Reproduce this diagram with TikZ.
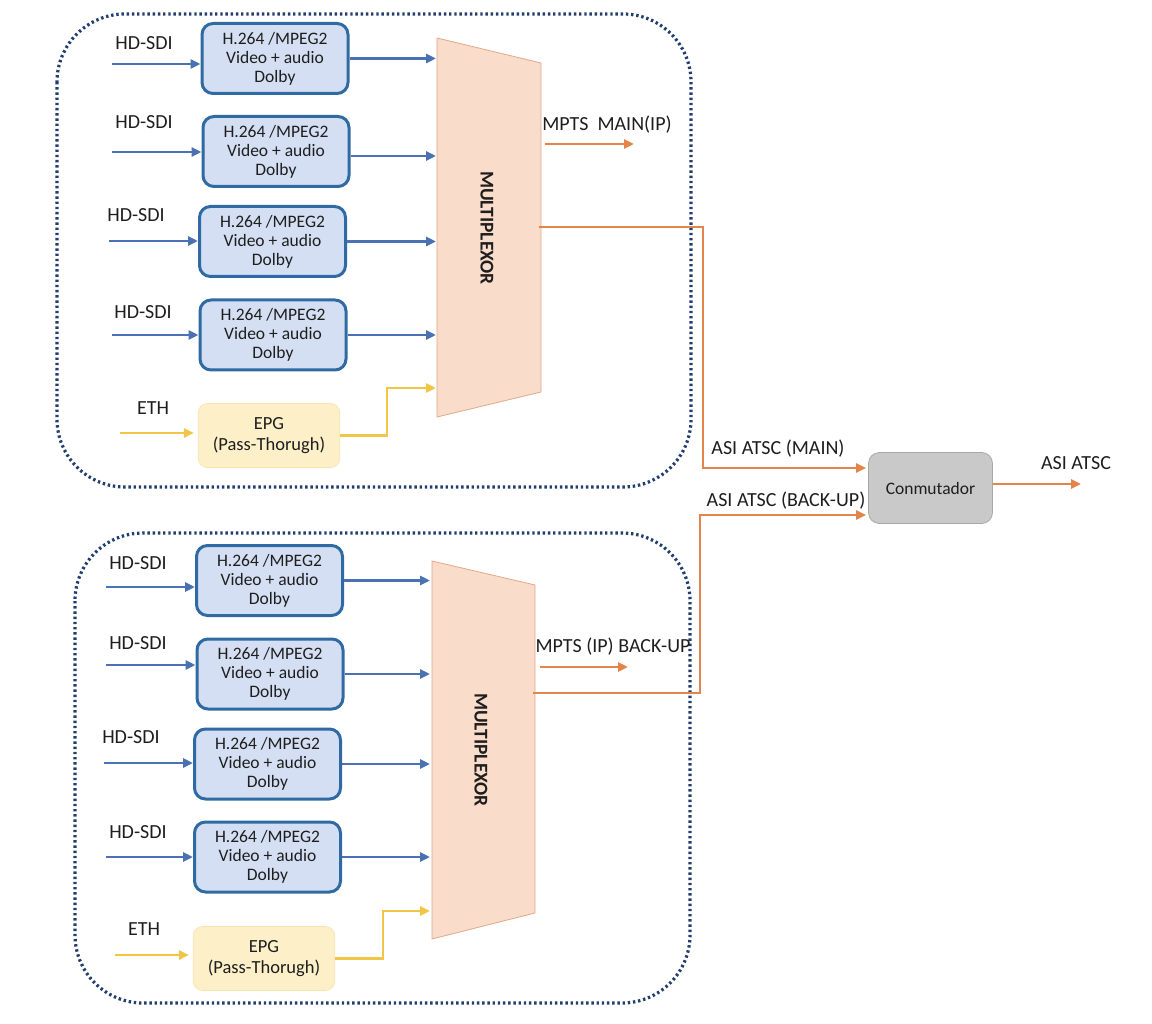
\documentclass[tikz,border=0pt]{standalone}
\usepackage{fontspec}
\setmainfont{Carlito}
\usetikzlibrary{arrows.meta}
\definecolor{encB}{HTML}{2F6AA3}
\definecolor{encF}{HTML}{D4DFF3}
\definecolor{blueA}{HTML}{4A72B2}
\definecolor{epgF}{HTML}{FDF0C9}
\definecolor{epgB}{HTML}{F6E3AE}
\definecolor{yelA}{HTML}{F1C545}
\definecolor{oraA}{HTML}{E3854A}
\definecolor{muxF}{HTML}{FADCCA}
\definecolor{muxB}{HTML}{E2A88A}
\definecolor{cmF}{HTML}{C9C9C9}
\definecolor{cmB}{HTML}{A8A8A8}
\definecolor{frameC}{HTML}{223E6E}
\definecolor{txt}{HTML}{1E1E1E}
\begin{document}
\begin{tikzpicture}[x=1pt,y=-1pt,
  enc/.style={draw=encB, fill=encF, line width=3pt, rounded corners=11pt,
    minimum width=146pt, minimum height=70pt, inner sep=0pt, align=center,
    text=txt, font=\fontsize{17.5}{19}\selectfont},
  epgbox/.style={draw=epgB, fill=epgF, line width=0.6pt, rounded corners=9pt,
    minimum width=141.5pt, minimum height=64pt, inner sep=0pt, align=center,
    text=txt, font=\fontsize{18.5}{21}\selectfont},
  lbl/.style={inner sep=0pt, text=txt, font=\fontsize{20}{23}\selectfont},
  muxtxt/.style={inner sep=0pt, rotate=-90, text=txt, font=\bfseries\fontsize{19.5}{22}\selectfont},
  barrow/.style={draw=blueA, line width=2.8pt, -{Triangle[length=10pt,width=9pt]}},
  yarrow/.style={draw=yelA, line width=2.8pt, -{Triangle[length=10pt,width=9pt]}},
  oarrow/.style={draw=oraA, line width=2.8pt, -{Triangle[length=10pt,width=9pt]}},
  oline/.style={draw=oraA, line width=2.2pt},
  frame/.style={draw=frameC, line width=3.2pt, dash pattern=on 2.4pt off 2.8pt, rounded corners=68pt},
  muxshape/.style={draw=muxB, fill=muxF, line width=0.8pt}
]
\useasboundingbox (0,0) rectangle (1152,1024);

% ---------- frames ----------
\draw[frame] (57,14) rectangle (691,487);
\draw[frame] (75,533) rectangle (690,1003);

% ---------- top group ----------
\node[enc] (b1) at (275,58.5) {H.264 /MPEG2\\Video + audio\\Dolby};
\node[enc] (b2) at (276,151.5) {H.264 /MPEG2\\Video + audio\\Dolby};
\node[enc] (b3) at (272.5,241.5) {H.264 /MPEG2\\Video + audio\\Dolby};
\node[enc] (b4) at (273,335) {H.264 /MPEG2\\Video + audio\\Dolby};
\node[epgbox] (e1) at (269,435.5) {EPG\\(Pass-Thorugh)};

\node[lbl] (l1) at (144,43) {HD-SDI};
\node[lbl] (l2) at (144,122) {HD-SDI};
\node[lbl] (l3) at (136,215) {HD-SDI};
\node[lbl] (l4) at (143,312) {HD-SDI};
\node[lbl] (l5) at (153,408) {ETH};

\coordinate (s1) at (112,64);
\coordinate (s2) at (112,152);
\coordinate (s3) at (109,241);
\coordinate (s4) at (112,335);
\coordinate (s5) at (120,433);
\draw[barrow] (s1) -- (s1 -| b1.west);
\draw[barrow] (s2) -- (s2 -| b2.west);
\draw[barrow] (s3) -- (s3 -| b3.west);
\draw[barrow] (s4) -- (s4 -| b4.west);
\draw[yarrow] (s5) -- ([xshift=-4pt]s5 -| e1.west);

\draw[muxshape] (437,38) -- (541,63) -- (541,392) -- (437,417) -- cycle;
\node[muxtxt] (m1) at (487,228) {MULTIPLEXOR};
\coordinate (m1L) at (436,0);
\coordinate (m1o) at (539,227);

\draw[barrow] (b1.east) -- (b1.east -| m1L);
\draw[barrow] ([yshift=-4.5pt]b2.east) -- ([yshift=-4.5pt]b2.east -| m1L);
\draw[barrow] (b3.east) -- (b3.east -| m1L);
\draw[barrow] (b4.east) -- (b4.east -| m1L);
\coordinate (y1) at (387,388);
\draw[yarrow] (e1.east) -| (y1) -- (y1 -| m1L);

\node[lbl] (t1) at (607,125) {MPTS\ \ MAIN(IP)};
\coordinate (p1a) at (545,144);
\coordinate (p1b) at (634,144);
\draw[oarrow] (p1a) -- (p1b);

% ---------- bottom group ----------
\node[enc] (c1) at (269.5,580.5) {H.264 /MPEG2\\Video + audio\\Dolby};
\node[enc] (c2) at (270,674) {H.264 /MPEG2\\Video + audio\\Dolby};
\node[enc] (c3) at (267.5,764) {H.264 /MPEG2\\Video + audio\\Dolby};
\node[enc] (c4) at (267.5,857) {H.264 /MPEG2\\Video + audio\\Dolby};
\node[epgbox] (e2) at (264,958.5) {EPG\\(Pass-Thorugh)};

\node[lbl] (n1) at (138,563) {HD-SDI};
\node[lbl] (n2) at (138,643) {HD-SDI};
\node[lbl] (n3) at (131,737) {HD-SDI};
\node[lbl] (n4) at (138,832) {HD-SDI};
\node[lbl] (n5) at (144,929) {ETH};

\coordinate (r1) at (106,587);
\coordinate (r2) at (106,665);
\coordinate (r3) at (104,763);
\coordinate (r4) at (106,857);
\coordinate (r5) at (115,955);
\draw[barrow] (r1) -- (r1 -| c1.west);
\draw[barrow] (r2) -- (r2 -| c2.west);
\draw[barrow] (r3) -- (r3 -| c3.west);
\draw[barrow] (r4) -- (r4 -| c4.west);
\draw[yarrow] (r5) -- ([xshift=-4pt]r5 -| e2.west);

\draw[muxshape] (432,561) -- (535,585) -- (535,913) -- (432,939) -- cycle;
\node[muxtxt] (m2) at (481,750) {MULTIPLEXOR};
\coordinate (m2L) at (430,0);
\coordinate (m2o) at (533,693);

\draw[barrow] (c1.east) -- (c1.east -| m2L);
\draw[barrow] (c2.east) -- (c2.east -| m2L);
\draw[barrow] (c3.east) -- (c3.east -| m2L);
\draw[barrow] (c4.east) -- (c4.east -| m2L);
\coordinate (y2) at (383,911);
\draw[yarrow] (e2.east) -| (y2) -- (y2 -| m2L);

\node[lbl] (t2) at (613,647) {MPTS (IP) BACK-UP};
\coordinate (p2a) at (540,667);
\coordinate (p2b) at (628,667);
\draw[oarrow] (p2a) -- (p2b);

% ---------- switch ----------
\node[draw=cmB, fill=cmF, line width=0.8pt, rounded corners=11pt,
  minimum width=124pt, minimum height=71pt, inner sep=0pt, text=txt,
  font=\fontsize{17.5}{20}\selectfont] (cm) at (930.5,488) {Conmutador};

\coordinate (k1) at (703,468);
\coordinate (k2) at (700,515);
\draw[oline, -{Triangle[length=10pt,width=9pt]}] (m1o) -| (k1) -- ([xshift=-2pt]k1 -| cm.west);
\draw[oline, -{Triangle[length=10pt,width=9pt]}] (m2o) -| (k2) -- ([xshift=-2pt]k2 -| cm.west);

\node[lbl] (a1) at (778,449) {ASI ATSC (MAIN)};
\node[lbl] (a2) at (786,501) {ASI ATSC (BACK-UP)};

\coordinate (q1) at (1081,484);
\draw[oarrow] (q1 -| cm.east) -- (q1);
\node[lbl] (a3) at (1076,463) {ASI ATSC};
\end{tikzpicture}
\end{document}
